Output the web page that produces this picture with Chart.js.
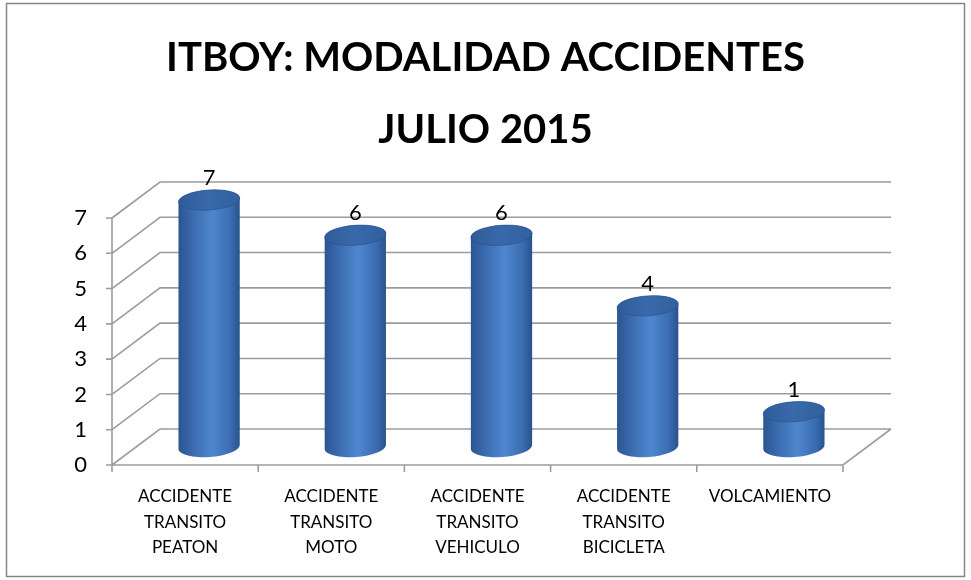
<!DOCTYPE html>
<html>
<head>
<meta charset="utf-8">
<title>ITBOY: Modalidad accidentes julio 2015</title>
<script src="https://cdn.jsdelivr.net/npm/chart.js@4.4.1/dist/chart.umd.min.js"></script>
<style>
    html, body { margin: 0; padding: 0; background: #fff; }
    #chart { display: block; }
</style>
</head>
<body>
<canvas id="chart" width="971" height="580"></canvas>
<script>
// Data
const categories = [
    ["ACCIDENTE", "TRANSITO", "PEATON"],
    ["ACCIDENTE", "TRANSITO", "MOTO"],
    ["ACCIDENTE", "TRANSITO", "VEHICULO"],
    ["ACCIDENTE", "TRANSITO", "BICICLETA"],
    ["VOLCAMIENTO"]
];
const accidentes = [7, 6, 6, 4, 1];
const yTicks = [0, 1, 2, 3, 4, 5, 6, 7];
const titleLines = ["ITBOY: MODALIDAD ACCIDENTES", "JULIO 2015"];

// 3D look: offset from the front plane to the back wall
const DEPTH_X = 48;
const DEPTH_Y = -36;
const GRID_COLOR = "#9c9c9c";
const FONT = "Lato, 'Open Sans', sans-serif";

function drawCylinder(ctx, cx, top, bottom, rx, ry) {
    const tilt = -0.07;
    const g = ctx.createLinearGradient(cx - rx, 0, cx + rx, 0);
    g.addColorStop(0, "#2a5590");
    g.addColorStop(0.2, "#3868ab");
    g.addColorStop(0.55, "#4f87cf");
    g.addColorStop(0.85, "#3a6cb0");
    g.addColorStop(1, "#28528c");

    // body + lower half of the bottom ellipse
    ctx.fillStyle = g;
    ctx.beginPath();
    ctx.ellipse(cx, bottom, rx, ry, tilt, Math.PI, 0, true);
    ctx.ellipse(cx, top, rx, ry, tilt, 0, -Math.PI, true);
    ctx.closePath();
    ctx.fill();

    // top cap
    const tg = ctx.createLinearGradient(cx - rx, top, cx + rx, top);
    tg.addColorStop(0, "#2f5c99");
    tg.addColorStop(0.5, "#3a69aa");
    tg.addColorStop(1, "#31609e");
    ctx.fillStyle = tg;
    ctx.beginPath();
    ctx.ellipse(cx, top, rx, ry, tilt, 0, Math.PI * 2);
    ctx.fill();
    ctx.strokeStyle = "rgba(40, 80, 140, 0.6)";
    ctx.lineWidth = 1;
    ctx.stroke();
}

const frame3d = {
    id: "frame3d",
    beforeDraw(chart) {
        const ctx = chart.ctx;
        ctx.save();
        ctx.fillStyle = "#fff";
        ctx.fillRect(0, 0, chart.width, chart.height);
        ctx.strokeStyle = "#868686";
        ctx.lineWidth = 1.5;
        ctx.strokeRect(6.5, 3.5, 958, 573);
        ctx.restore();
    },
    beforeDatasetsDraw(chart) {
        const { ctx, chartArea: a, scales: { y } } = chart;
        ctx.save();
        ctx.strokeStyle = GRID_COLOR;
        ctx.lineWidth = 1.6;
        ctx.beginPath();
        yTicks.forEach(v => {
            const py = y.getPixelForValue(v);
            ctx.moveTo(a.left, py);
            ctx.lineTo(a.left + DEPTH_X, py + DEPTH_Y);
            ctx.lineTo(a.right + DEPTH_X, py + DEPTH_Y);
            ctx.moveTo(a.left - 6, py);
            ctx.lineTo(a.left, py);
        });
        // front axis, floor edge
        ctx.moveTo(a.left, a.top);
        ctx.lineTo(a.left, a.bottom);
        ctx.lineTo(a.right, a.bottom);
        ctx.lineTo(a.right + DEPTH_X, a.bottom + DEPTH_Y);
        // category ticks
        for (let i = 0; i <= categories.length; i++) {
            const px = a.left + (a.right - a.left) * i / categories.length;
            ctx.moveTo(px, a.bottom);
            ctx.lineTo(px, a.bottom + 7);
        }
        ctx.stroke();
        ctx.restore();
    },
    afterDatasetsDraw(chart) {
        const ctx = chart.ctx;
        const meta = chart.getDatasetMeta(0);
        ctx.save();
        meta.data.forEach((bar, i) => {
            const cx = bar.x + DEPTH_X / 2;
            const top = bar.y + DEPTH_Y / 2;
            const bottom = bar.base + DEPTH_Y / 2;
            drawCylinder(ctx, cx, top, bottom, bar.width / 2, 10);
            ctx.fillStyle = "#000";
            ctx.font = "22px " + FONT;
            ctx.textAlign = "center";
            ctx.textBaseline = "middle";
            ctx.fillText(String(accidentes[i]), cx, top - 22);
        });
        ctx.restore();
    }
};

new Chart(document.getElementById("chart"), {
    type: "bar",
    data: {
        labels: categories,
        datasets: [{
            label: "Accidentes",
            data: accidentes,
            backgroundColor: "rgba(0,0,0,0)",
            borderWidth: 0,
            barPercentage: 0.42,
            categoryPercentage: 1.0
        }]
    },
    options: {
        responsive: false,
        animation: false,
        layout: { padding: { left: 64, right: 64, top: 0, bottom: 0 } },
        plugins: {
            legend: { display: false },
            tooltip: { enabled: false },
            title: {
                display: true,
                text: titleLines,
                color: "#000",
                font: { family: FONT, size: 40, weight: "bold", lineHeight: 1.8 },
                padding: { top: 22, bottom: 52 }
            }
        },
        scales: {
            x: {
                offset: true,
                grid: { display: false, drawTicks: false },
                border: { display: false },
                ticks: {
                    color: "#000",
                    padding: 19,
                    maxRotation: 0,
                    autoSkip: false,
                    font: { family: FONT, size: 17, lineHeight: 1.5 }
                },
                afterFit: s => { s.height = 115; }
            },
            y: {
                min: 0,
                max: 7,
                grid: { display: false, drawTicks: false },
                border: { display: false },
                ticks: {
                    stepSize: 1,
                    color: "#000",
                    padding: 25,
                    font: { family: FONT, size: 22 }
                },
                afterFit: s => { s.width = 48; }
            },
            // empty right gutter so the plot ends where the reference floor ends
            gutter: {
                type: "linear",
                position: "right",
                grid: { display: false, drawTicks: false },
                border: { display: false },
                ticks: { display: false },
                afterFit: s => { s.width = 64; }
            }
        }
    },
    plugins: [frame3d]
});
</script>
</body>
</html>
